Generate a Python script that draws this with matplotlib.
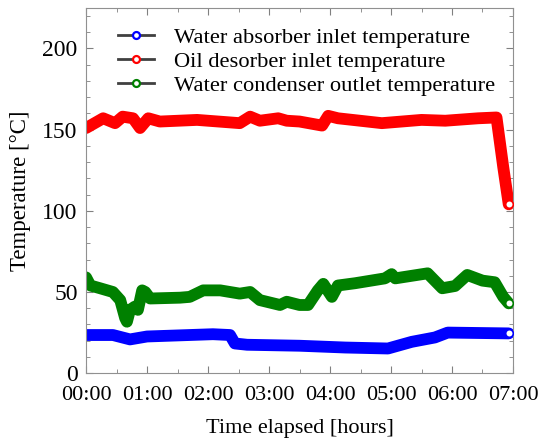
import numpy as np
import matplotlib
matplotlib.use('Agg')
from matplotlib import pyplot as plt
from matplotlib.ticker import MultipleLocator

plt.rcParams['font.family'] = ['Liberation Serif', 'DejaVu Serif']

# time in hours, temperatures in degC
T_BLUE = [0.0, 0.44, 0.72, 1.0, 1.54, 2.08, 2.36, 2.44, 2.64, 3.5, 4.25, 4.95, 5.34, 5.72, 5.93, 6.93]
BLUE = [23.5, 23.5, 20.8, 22.6, 23.3, 24.0, 23.5, 18.3, 17.5, 16.9, 15.8, 15.2, 19.3, 22.0, 25.0, 24.5]

T_RED = [0.0, 0.28, 0.475, 0.6, 0.77, 0.885, 1.02, 1.21, 1.82, 2.52, 2.69, 2.85, 3.15, 3.29,
         3.5, 3.87, 3.97, 4.13, 4.85, 5.5, 5.89, 6.43, 6.73, 6.84, 6.93]
RED = [151, 157, 154, 158, 157, 151, 157, 155, 156, 154, 158, 155.5, 157, 155.5,
       155, 152.5, 158.5, 157, 154, 156, 155.5, 157, 157.5, 127, 104]

T_GREEN = [0.0, 0.07, 0.23, 0.44, 0.56, 0.64, 0.67, 0.72, 0.8, 0.85, 0.92, 0.97, 1.05, 1.54,
           1.7, 1.92, 2.2, 2.52, 2.69, 2.85, 3.18, 3.29, 3.5, 3.64, 3.8, 3.89, 4.03, 4.13,
           4.41, 4.9, 5.01, 5.07, 5.6, 5.84, 6.05, 6.25, 6.5, 6.7, 6.84, 6.93]
GREEN = [59, 54, 52.3, 50, 45, 34, 31.7, 39, 41, 39, 51, 50, 46, 46.5,
         47, 51, 51, 49, 50, 45, 42, 44, 42, 42, 51, 55, 47, 54,
         55.4, 58.4, 61, 58.4, 61.5, 52.3, 53.7, 60.5, 57, 56, 47, 43]

LABELS = ['Water absorber inlet temperature', 'Oil desorber inlet temperature',
          'Water condenser outlet temperature']
XTICKS = [0, 1, 2, 3, 4, 5, 6, 7]
XTICKLABELS = ['%02d:00' % h for h in XTICKS]

fig = plt.figure(figsize=(5.38, 4.38), dpi=100)
ax = fig.add_axes([0.16, 0.148, 0.7935, 0.834])

series = [(T_BLUE, BLUE, '#0000ff'), (T_RED, RED, '#ff0000'), (T_GREEN, GREEN, '#008000')]
for (t, v, c), lab in zip(series, LABELS):
    ax.plot(t, v, color=c, lw=8.5, solid_capstyle='round', solid_joinstyle='round', zorder=2)
    ax.plot(t[-1:], v[-1:], 'o', ms=5.5, mfc='white', mec=c, mew=1.2, zorder=3)
    # legend proxy: gray line with coloured open marker
    ax.plot([], [], '-', color='#404040', lw=2, marker='o', ms=5, mfc='white', mec=c, mew=1.6, label=lab)

ax.set_xlim(0, 7)
ax.set_ylim(0, 225)
ax.set_xticks(XTICKS)
ax.set_xticklabels(XTICKLABELS)
ax.set_yticks([0, 50, 100, 150, 200])
ax.xaxis.set_minor_locator(MultipleLocator(0.5))
ax.yaxis.set_minor_locator(MultipleLocator(10))
ax.tick_params(which='both', direction='in', top=True, right=True, color='#808080')
ax.tick_params(axis='x', labelsize=16, pad=9)
ax.tick_params(axis='y', labelsize=17, pad=6)
ax.tick_params(which='major', length=5)
ax.tick_params(which='minor', length=3)
for s in ax.spines.values():
    s.set_color('#909090')

ax.set_xlabel('Time elapsed [hours]', fontsize=16, labelpad=10)
ax.set_ylabel('Temperature [°C]', fontsize=16.5, labelpad=8)

ax.legend(loc='upper left', fontsize=16.2, frameon=False, handlelength=1.6,
          handletextpad=0.9, labelspacing=0.15, borderaxespad=0.45,
          bbox_to_anchor=(0.03, 1.0))

fig.savefig('out.png', dpi=100)
